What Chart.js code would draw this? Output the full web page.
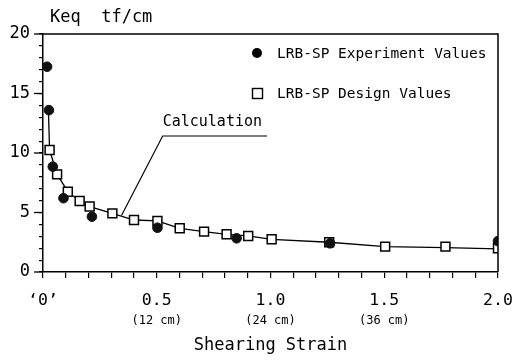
<!DOCTYPE html>
<html><head><meta charset="utf-8">
<script src="https://cdn.jsdelivr.net/npm/chart.js@4/dist/chart.umd.min.js"></script>
<style>html,body{margin:0;padding:0;background:#fff}</style>
</head><body>
<canvas id="c" width="512" height="361"></canvas>
<script>
// ---- data ----
const expStrain = [0.018, 0.026, 0.043, 0.090, 0.215, 0.503, 0.851, 1.262, 2.0];
const expKeq    = [17.25, 13.6, 8.85, 6.2, 4.65, 3.72, 2.83, 2.41, 2.6];
const designStrain = [0.029, 0.062, 0.109, 0.161, 0.205, 0.305, 0.400, 0.503, 0.601, 0.708, 0.807, 0.902, 1.005, 1.258, 1.504, 1.769, 2.0];
const designKeq    = [10.25, 8.2, 6.75, 5.97, 5.5, 4.93, 4.37, 4.29, 3.67, 3.39, 3.17, 3.03, 2.75, 2.5, 2.13, 2.13, 1.99];
const calcStrain = [0.024, 0.029, 0.062, 0.109, 0.161, 0.205, 0.305, 0.400, 0.503, 0.601, 0.708, 0.807, 0.902, 1.005, 1.258, 1.504, 1.769, 2.0];
const calcKeq    = [13.4, 10.25, 8.2, 6.75, 5.97, 5.5, 4.93, 4.37, 4.29, 3.67, 3.39, 3.17, 3.03, 2.75, 2.5, 2.13, 2.05, 1.95];
const xTickValues = [0, 0.5, 1.0, 1.5, 2.0];
const xTickLabels = ['\u20180\u2019', '0.5', '1.0', '1.5', '2.0'];
const xSubLabels  = ['', '(12 cm)', '(24 cm)', '(36 cm)', ''];
const yMajorTicks = [0, 5, 10, 15, 20];
const seriesNames = ['LRB-SP Experiment Values', 'LRB-SP Design Values'];
const yTitle = 'Keq  tf/cm';
const xTitle = 'Shearing Strain';
const calcLabel = 'Calculation';
const calcArrow = [[0.985, 11.43], [0.526, 11.43], [0.345, 4.75]];

const FONT = "'DejaVu Sans Mono', 'Liberation Mono', monospace";
const pts = (xs, ys) => xs.map((x, i) => ({x, y: ys[i]}));

const extras = {
  id: 'extras',
  afterDraw(chart) {
    const {ctx, chartArea: a, scales: {x, y}} = chart;
    ctx.save();
    ctx.strokeStyle = '#000'; ctx.fillStyle = '#000';
    // frame top/right
    ctx.lineWidth = 1.5;
    ctx.beginPath();
    ctx.moveTo(a.left, a.top); ctx.lineTo(a.right, a.top); ctx.lineTo(a.right, a.bottom);
    ctx.stroke();
    // major y ticks longer
    ctx.lineWidth = 1.3;
    yMajorTicks.forEach(v => {
      const py = y.getPixelForValue(v);
      ctx.beginPath(); ctx.moveTo(a.left - 9, py); ctx.lineTo(a.left, py); ctx.stroke();
    });
    // sub labels
    ctx.font = '12px ' + FONT;
    ctx.textAlign = 'center'; ctx.textBaseline = 'middle';
    xTickValues.forEach((v, i) => {
      if (xSubLabels[i]) ctx.fillText(xSubLabels[i], x.getPixelForValue(v), a.bottom + 49);
    });
    // titles
    ctx.font = '17px ' + FONT;
    ctx.fillText(xTitle, (a.left + a.right) / 2, a.bottom + 74);
    ctx.textAlign = 'left';
    ctx.fillText(yTitle, a.left + 7, 18);
    // legend
    ctx.font = '14.5px ' + FONT;
    ctx.beginPath(); ctx.arc(257, 53, 5, 0, Math.PI * 2); ctx.fill();
    ctx.fillText(seriesNames[0], 277, 54);
    ctx.lineWidth = 1.4;
    ctx.strokeRect(252.5, 88.5, 10, 10);
    ctx.fillText(seriesNames[1], 277, 94);
    // calculation annotation
    ctx.font = '15px ' + FONT;
    ctx.fillText(calcLabel, x.getPixelForValue(calcArrow[1][0]), y.getPixelForValue(calcArrow[1][1]) - 14);
    ctx.lineWidth = 1.2;
    ctx.beginPath();
    calcArrow.forEach((p, i) => {
      const px = x.getPixelForValue(p[0]), py = y.getPixelForValue(p[1]);
      if (i === 0) ctx.moveTo(px, py); else ctx.lineTo(px, py);
    });
    ctx.stroke();
    ctx.restore();
  }
};

new Chart(document.getElementById('c'), {
  type: 'scatter',
  data: {
    datasets: [
      {label: seriesNames[0], data: pts(expStrain, expKeq), pointStyle: 'circle', pointRadius: 4.8,
       backgroundColor: '#111', borderColor: '#111', borderWidth: 1, showLine: false},
      {label: seriesNames[1], data: pts(designStrain, designKeq), pointStyle: 'rect', pointRadius: 6.3,
       backgroundColor: '#fff', borderColor: '#000', borderWidth: 1.5, showLine: false},
      {label: 'Calculation', data: pts(calcStrain, calcKeq), pointRadius: 0, showLine: true,
       borderColor: '#000', borderWidth: 1.3, tension: 0}
    ]
  },
  options: {
    responsive: false, animation: false, devicePixelRatio: 1,
    layout: {padding: {top: 34, right: 14, left: 0, bottom: 0}},
    plugins: {legend: {display: false}, tooltip: {enabled: false}},
    scales: {
      x: {
        type: 'linear', min: 0, max: 2,
        afterFit(s) { s.height = 89; s.paddingRight = 0; s.paddingLeft = 0; },
        ticks: {
          stepSize: 0.1, autoSkip: false, maxRotation: 0, padding: 13,
          color: '#000', font: {family: FONT, size: 16.5},
          callback(v) {
            const r = Math.round(v * 10) / 10;
            const i = xTickValues.findIndex(t => Math.abs(t - r) < 1e-6);
            return i >= 0 ? xTickLabels[i] : '';
          }
        },
        grid: {drawOnChartArea: false, drawTicks: true, tickLength: 6, color: '#000', lineWidth: 1.2},
        border: {display: true, color: '#000', width: 1.5}
      },
      y: {
        type: 'linear', min: 0, max: 20,
        afterFit(s) { s.width = 43; s.paddingTop = 0; s.paddingBottom = 0; },
        ticks: {
          stepSize: 1, autoSkip: false, padding: 9,
          color: '#000', font: {family: FONT, size: 17},
          callback(v) { return yMajorTicks.includes(v) ? String(v) : ''; }
        },
        grid: {drawOnChartArea: false, drawTicks: true, tickLength: 4, color: '#000', lineWidth: 1.2},
        border: {display: true, color: '#000', width: 1.5}
      }
    }
  },
  plugins: [extras]
});
</script>
</body></html>
